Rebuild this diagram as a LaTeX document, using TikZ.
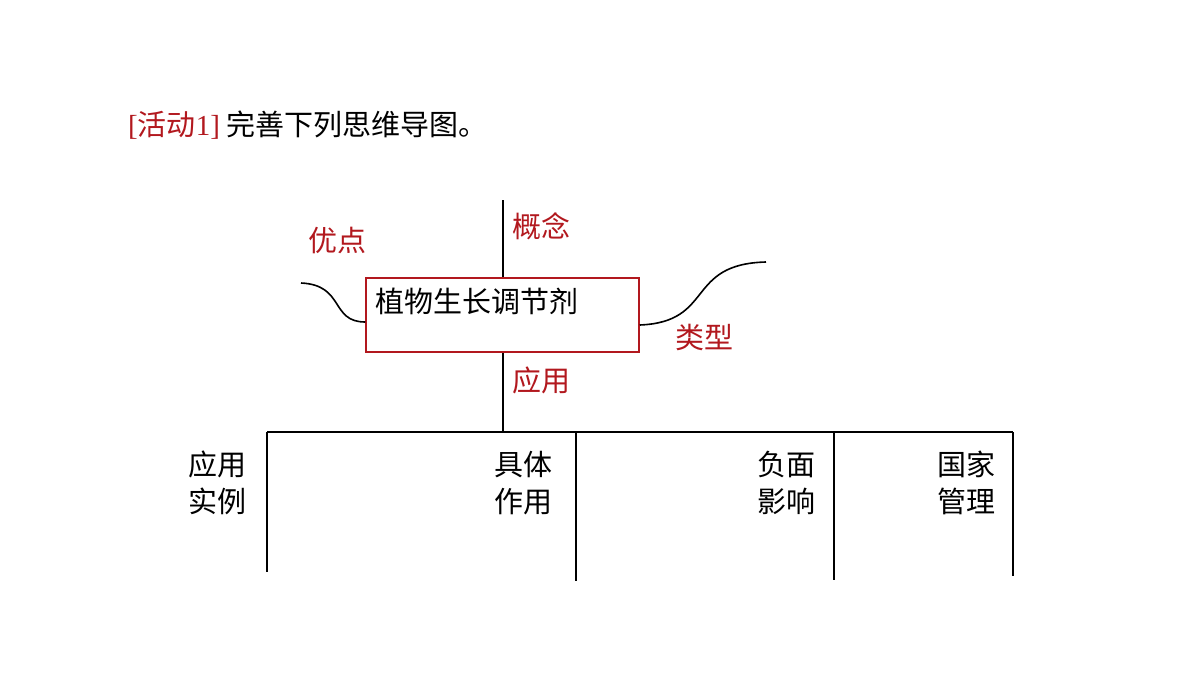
\documentclass[tikz,border=0pt]{standalone}
\usepackage{fontspec}
\setmainfont{Liberation Serif}
\newfontfamily\cjk{Noto Sans CJK SC}
\definecolor{darkred}{RGB}{178, 24, 30}
\begin{document}
\begin{tikzpicture}[
        x=1pt, y=-1pt,
        every node/.style={font=\cjk\fontsize{29}{33}\selectfont, inner sep=0pt},
        label/.style={text=darkred},
        topic/.style={draw=darkred, line width=1.5pt, minimum width=273pt, minimum height=74pt},
        branch/.style={line width=2pt, black},
        stack/.style={align=center}
    ]
    \useasboundingbox (0,0) rectangle (1200,675);

    % title
    \node[anchor=west] (title) at (128,125) {\textcolor{darkred}{{\rmfamily[}活动{\rmfamily 1]}} 完善下列思维导图。};

    % central topic
    \draw[branch] (503,200) -- (503,432);
    \node[topic, fill=white] (root) at (502.5,315) {};
    \node[anchor=west] (rootText) at (375,301) {植物生长调节剂};

    \node[label] (concept) at (541,226) {概念};
    \node[label] (merit) at (337,240) {优点};
    \node[label] (kind) at (704,337) {类型};
    \node[label] (use) at (541,380) {应用};

    \draw[branch, line width=1.6pt] (root.west |- 0,322) .. controls (330,322) and (345,285) .. (301,283);
    \draw[branch, line width=1.6pt] (root.east |- 0,325) .. controls (715,322) and (685,264) .. (766,262);

    % lower tree
    \draw[branch] (267,432) -- (1013,432);
    \draw[branch] (267,432) -- (267,572);
    \draw[branch] (576,432) -- (576,581);
    \draw[branch] (834,432) -- (834,580);
    \draw[branch] (1013,432) -- (1013,576);

    \node[stack] (example) at (217,483) {应用\\[4pt]实例};
    \node[stack] (effect) at (523,483) {具体\\[4pt]作用};
    \node[stack] (harm) at (786,483) {负面\\[4pt]影响};
    \node[stack] (rule) at (966,483) {国家\\[4pt]管理};
\end{tikzpicture}
\end{document}
